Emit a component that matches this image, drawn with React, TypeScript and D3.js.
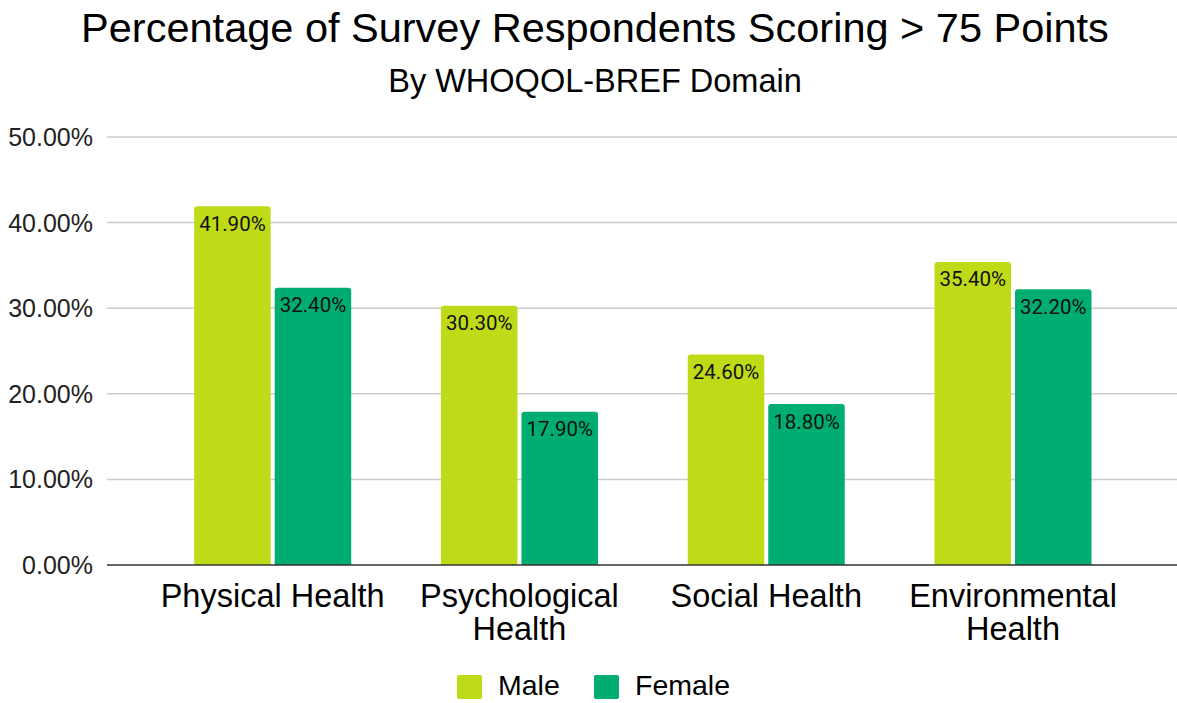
import React, { useEffect, useRef } from 'react';
import * as d3 from 'd3';

const categories = ['Physical Health', 'Psychological Health', 'Social Health', 'Environmental Health'];
const categoryLines = [['Physical Health'], ['Psychological', 'Health'], ['Social Health'], ['Environmental', 'Health']];
const series = ['Male', 'Female'];
const maleValues = [41.9, 30.3, 24.6, 35.4];
const femaleValues = [32.4, 17.9, 18.8, 32.2];
const yTicks = [0, 10, 20, 30, 40, 50];
const colors = ['#bfdb17', '#00ad70'];

const W = 1177;
const H = 703;
const FONT = '"Liberation Sans", Arial, sans-serif';

const App: React.FC = () => {
  const svgRef = useRef<SVGSVGElement>(null);

  useEffect(() => {
    if (!svgRef.current) return;
    const svg = d3.select(svgRef.current);
    svg.selectAll('*').remove();

    const gridLeft = 107;
    const gridRight = 1177;

    const x = d3.scaleBand<string>().domain(categories).range([149.3, 1136.4]).padding(0);
    const groupW = 157;
    const xInner = d3.scaleBand<string>()
      .domain(series)
      .range([(x.bandwidth() - groupW) / 2, (x.bandwidth() + groupW) / 2])
      .paddingInner(0.05);
    const y = d3.scaleLinear().domain([0, 50]).range([565, 137]);

    // title
    svg.append('text')
      .attr('x', 595).attr('y', 42)
      .attr('text-anchor', 'middle')
      .attr('font-family', FONT).attr('font-size', 41.5)
      .attr('fill', '#000')
      .text('Percentage of Survey Respondents Scoring > 75 Points');
    svg.append('text')
      .attr('x', 595).attr('y', 92)
      .attr('text-anchor', 'middle')
      .attr('font-family', FONT).attr('font-size', 32.5)
      .attr('fill', '#000')
      .text('By WHOQOL-BREF Domain');

    // gridlines + y labels
    const grid = svg.append('g');
    grid.selectAll('line')
      .data(yTicks.filter(t => t > 0))
      .enter().append('line')
      .attr('x1', gridLeft).attr('x2', gridRight)
      .attr('y1', d => y(d)).attr('y2', d => y(d))
      .attr('stroke', '#cccccc').attr('stroke-width', 1.5);

    svg.append('g').selectAll('text')
      .data(yTicks)
      .enter().append('text')
      .attr('x', 93).attr('y', d => y(d) + 9)
      .attr('text-anchor', 'end')
      .attr('font-family', FONT).attr('font-size', 25)
      .attr('fill', '#222')
      .text(d => d3.format('.2f')(d) + '%');

    // bars
    const r = 3;
    const barPath = (x0: number, w: number, top: number, bottom: number) =>
      `M${x0},${bottom}V${top + r}Q${x0},${top} ${x0 + r},${top}H${x0 + w - r}Q${x0 + w},${top} ${x0 + w},${top + r}V${bottom}Z`;

    const data = categories.flatMap((c, i) => [
      { cat: c, s: 'Male', v: maleValues[i] },
      { cat: c, s: 'Female', v: femaleValues[i] },
    ]);

    const bars = svg.append('g').selectAll('g')
      .data(data)
      .enter().append('g');

    bars.append('path')
      .attr('d', d => barPath((x(d.cat) ?? 0) + (xInner(d.s) ?? 0), xInner.bandwidth(), y(d.v), y(0)))
      .attr('fill', d => colors[series.indexOf(d.s)]);

    bars.append('text')
      .attr('x', d => (x(d.cat) ?? 0) + (xInner(d.s) ?? 0) + xInner.bandwidth() / 2)
      .attr('y', d => y(d.v) + 24.5)
      .attr('text-anchor', 'middle')
      .attr('font-family', 'Roboto, sans-serif').attr('font-size', 20.5)
      .attr('fill', '#111')
      .text(d => d.v.toFixed(2) + '%');

    // baseline
    svg.append('line')
      .attr('x1', gridLeft).attr('x2', gridRight)
      .attr('y1', y(0)).attr('y2', y(0))
      .attr('stroke', '#333').attr('stroke-width', 1.5);

    // category labels
    const catG = svg.append('g');
    categories.forEach((c, i) => {
      const t = catG.append('text')
        .attr('x', (x(c) ?? 0) + x.bandwidth() / 2)
        .attr('y', 607)
        .attr('text-anchor', 'middle')
        .attr('font-family', FONT).attr('font-size', 32.5)
        .attr('fill', '#000');
      categoryLines[i].forEach((line, j) => {
        t.append('tspan')
          .attr('x', (x(c) ?? 0) + x.bandwidth() / 2)
          .attr('dy', j === 0 ? 0 : 33)
          .text(line);
      });
    });

    // legend
    const legend = svg.append('g');
    const legendX = [457, 594];
    series.forEach((s, i) => {
      legend.append('rect')
        .attr('x', legendX[i]).attr('y', 675)
        .attr('width', 25).attr('height', 24)
        .attr('rx', 2)
        .attr('fill', colors[i]);
      legend.append('text')
        .attr('x', legendX[i] + 41).attr('y', 695)
        .attr('font-family', FONT).attr('font-size', 28.5)
        .attr('fill', '#000')
        .text(s);
    });
  }, []);

  return (
    <svg
      ref={svgRef}
      width={W}
      height={H}
      style={{ position: 'absolute', left: 0, top: 0, background: '#fff' }}
    />
  );
};

export default App;
